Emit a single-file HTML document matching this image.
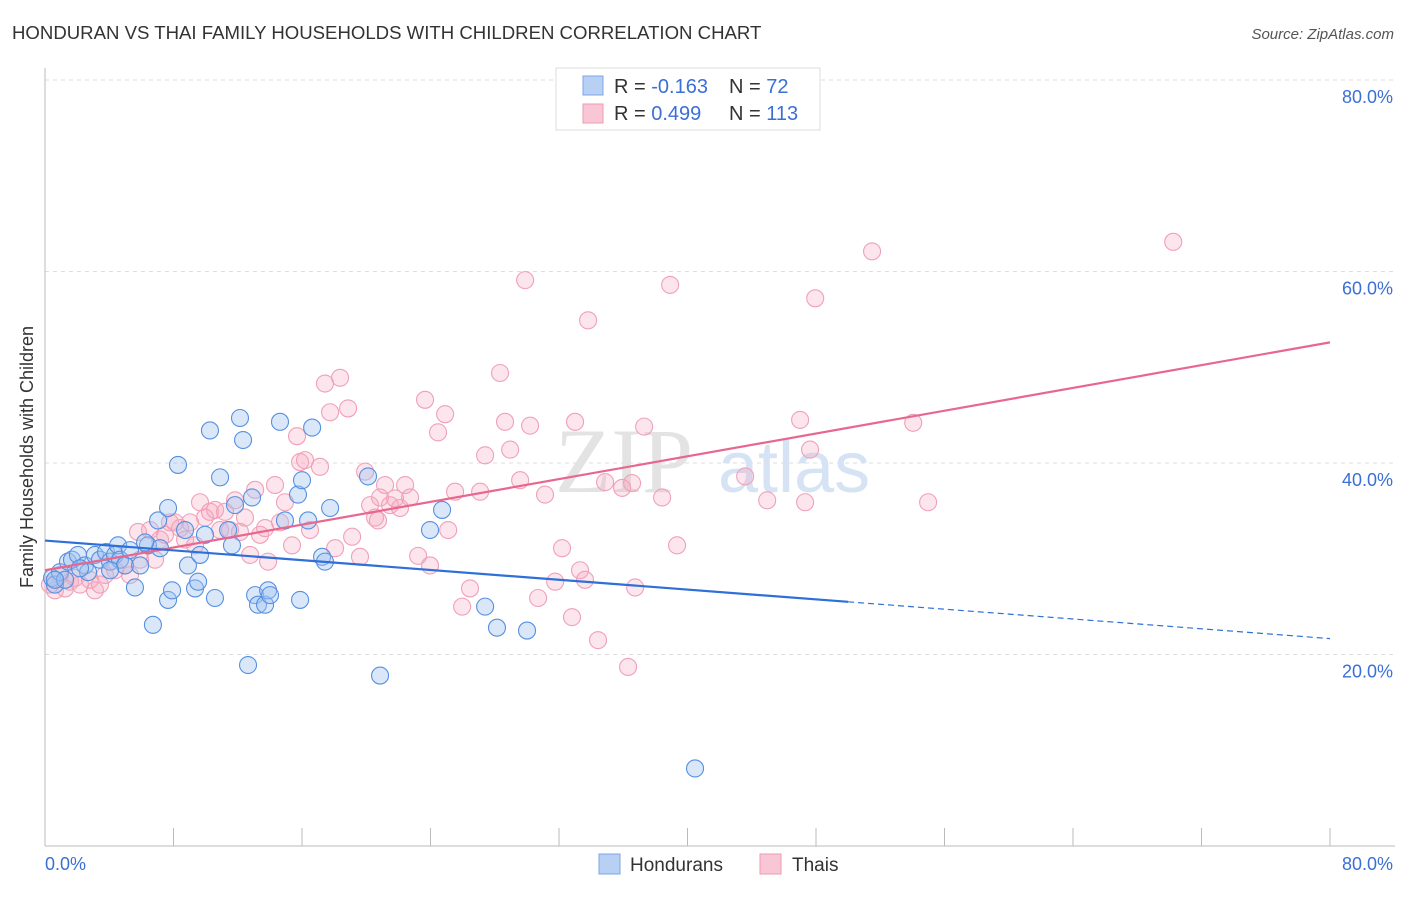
<!DOCTYPE html>
<html><head><meta charset="utf-8"><style>
body{margin:0;background:#fff;font-family:"Liberation Sans",sans-serif}
</style></head><body>
<svg width="1406" height="892" viewBox="0 0 1406 892" xmlns="http://www.w3.org/2000/svg" font-family="Liberation Sans, sans-serif">
<text x="12" y="39" font-size="18.6" fill="#333">HONDURAN VS THAI FAMILY HOUSEHOLDS WITH CHILDREN CORRELATION CHART</text>
<text x="1394" y="39" font-size="15" fill="#555" font-style="italic" text-anchor="end">Source: ZipAtlas.com</text>
<g id="grid"></g>
<g id="axes"></g>
<text x="555" y="492" font-size="92" fill="#e3e3e3" font-family="Liberation Serif, serif">ZIP</text>
<text x="718" y="492" font-size="72" fill="#d6e3f5">atlas</text>
<g id="pink"></g>
<g id="blue"></g>
<g id="trends"></g>
<text x="33" y="457" font-size="18" fill="#333" text-anchor="middle" transform="rotate(-90 33 457)">Family Households with Children</text>
<text x="45" y="870" font-size="18" fill="#3b6fd6">0.0%</text>
<text x="1393" y="870" font-size="18" fill="#3b6fd6" text-anchor="end">80.0%</text>
<g>
<rect x="556" y="68" width="264" height="62" fill="#fff" stroke="#ddd"/>
<rect x="583" y="76" width="20" height="19" fill="#b7d0f3" stroke="#7da6e6"/>
<rect x="583" y="104" width="20" height="19" fill="#f8c6d4" stroke="#ef9ab3"/>
<text x="614" y="93" font-size="20" fill="#333">R = <tspan fill="#3b6fd6">-0.163</tspan></text>
<text x="729" y="93" font-size="20" fill="#333">N = <tspan fill="#3b6fd6"> 72</tspan></text>
<text x="614" y="120" font-size="20" fill="#333">R = <tspan fill="#3b6fd6"> 0.499</tspan></text>
<text x="729" y="120" font-size="20" fill="#333">N = <tspan fill="#3b6fd6">113</tspan></text>
</g>
<g>
<rect x="599" y="854" width="21" height="20" fill="#b7d0f3" stroke="#7da6e6"/>
<text x="630" y="871" font-size="19" fill="#333">Hondurans</text>
<rect x="760" y="854" width="21" height="20" fill="#f8c6d4" stroke="#ef9ab3"/>
<text x="792" y="871" font-size="19" fill="#333">Thais</text>
</g>
</svg>
<script>
const yTicks=[20,40,60,80];
const yTickLabels=["20.0%","40.0%","60.0%","80.0%"];
const xTicks=[0,8,16,24,32,40,48,56,64,72,80];
const blueX=[0.44,0.62,0.93,1.25,1.43,1.68,2.05,2.49,2.68,3.11,3.42,3.8,4.05,4.36,4.55,4.67,4.98,5.29,5.6,5.92,6.41,6.72,7.04,7.16,7.66,7.66,7.91,8.28,8.72,8.9,9.34,9.53,9.65,9.96,10.27,10.58,10.9,11.4,11.64,11.83,12.14,12.33,12.64,12.89,13.08,13.26,13.7,13.89,14.01,14.63,14.94,15.75,15.88,16.0,16.38,16.63,17.25,17.43,17.75,20.11,20.86,23.97,24.72,27.4,28.14,30.01,40.47,0.62,2.18,4.05,6.23];
const blueY=[28.0,27.3,28.6,27.8,29.7,29.9,30.4,29.3,28.6,30.4,29.9,30.7,29.7,30.4,31.4,29.9,29.3,30.9,27.0,29.3,31.4,23.1,34.0,31.1,35.3,25.7,26.7,39.8,33.0,29.3,26.9,27.6,30.4,32.5,43.4,25.9,38.5,33.0,31.4,35.6,44.7,42.4,18.9,36.4,26.2,25.2,25.2,26.7,26.2,44.3,34.0,36.7,25.7,38.2,34.0,43.7,30.2,29.7,35.3,38.6,17.8,33.0,35.1,25.0,22.8,22.5,8.1,27.8,29.0,28.8,31.7];
const pinkX=[0.31,0.62,0.93,1.25,1.56,1.87,2.18,2.8,3.11,3.42,3.74,4.36,4.98,5.29,5.79,5.92,6.54,6.85,7.16,7.47,7.78,8.09,8.41,8.72,9.03,9.34,9.65,9.96,10.27,10.59,10.9,11.21,11.52,11.83,12.14,12.45,12.77,13.08,13.39,13.7,13.89,14.32,14.63,14.94,15.38,15.69,15.88,16.19,16.5,17.12,17.43,17.75,18.06,18.37,18.87,19.12,19.61,19.93,20.24,20.55,20.73,20.86,21.17,21.48,21.79,22.1,22.42,22.73,23.23,23.66,23.97,24.47,24.91,25.1,25.53,25.97,26.46,27.09,27.4,28.33,28.64,28.96,29.58,29.89,30.2,30.7,31.13,31.76,32.19,32.81,33.0,33.31,33.62,33.81,34.43,34.87,35.93,36.3,36.55,36.74,37.3,38.42,38.92,39.35,43.59,44.96,47.01,47.32,47.63,47.95,51.49,54.05,54.98,70.24];
const pinkY=[27.3,26.7,28.3,26.9,27.6,28.0,27.3,27.8,26.7,27.3,28.3,28.8,29.3,28.3,32.8,29.9,33.0,29.9,32.0,32.5,33.8,33.8,33.2,32.0,33.8,31.4,35.9,34.3,34.9,35.1,33.0,34.9,33.0,36.1,32.8,34.3,30.4,37.2,32.5,33.2,29.7,37.7,33.8,35.9,31.4,42.8,40.1,40.3,33.0,39.6,48.3,45.3,31.1,48.9,45.7,32.3,30.2,39.1,35.6,34.3,34.0,36.4,37.7,35.6,36.3,35.3,37.7,36.4,30.3,46.6,29.3,43.2,45.1,33.0,37.0,25.0,26.9,37.0,40.8,49.4,44.3,41.4,38.2,59.1,43.9,25.9,36.7,27.6,31.1,23.9,44.3,28.8,27.8,54.9,21.5,38.0,37.4,18.7,37.9,27.0,43.8,36.4,58.6,31.4,38.6,36.1,44.5,35.9,41.4,57.2,62.1,44.2,35.9,63.1];
const blueTrend=[31.9,-0.128];
const pinkTrend=[28.8,0.2975];
const NS="http://www.w3.org/2000/svg";
const X0=45,X1=1330,Y0=846,Y80=80;
function sx(v){return X0+(X1-X0)*v/80;}
function sy(v){return Y0-(Y0-Y80)*v/80;}
function mk(tag,attrs,parent){const e=document.createElementNS(NS,tag);for(const k in attrs)e.setAttribute(k,attrs[k]);parent.appendChild(e);return e;}
const grid=document.getElementById('grid'),axes=document.getElementById('axes');
yTicks.forEach((t,i)=>{
 const l=mk('line',{x1:X0,x2:1395,y1:sy(t),y2:sy(t),stroke:'#ddd','stroke-dasharray':'4,4'},grid);
 
 
 const tx=mk('text',{x:1393,y:sy(t)+23,'font-size':18,fill:'#3b6fd6','text-anchor':'end'},grid);
 tx.textContent=yTickLabels[i];
 
 
});
const xa=mk('line',{x1:X0,x2:1395,y1:Y0,y2:Y0,stroke:'#bbb'},axes);


const ya=mk('line',{x1:X0,x2:X0,y1:68,y2:Y0,stroke:'#bbb'},axes);


xTicks.forEach(t=>{
 const l=mk('line',{x1:sx(t),x2:sx(t),y1:828,y2:Y0,stroke:'#bbb'},axes);
 
 
});
function pts(xs,ys,g,fill,stroke,name){
 xs.forEach((v,i)=>{
  const c=mk('circle',{cx:sx(v),cy:sy(ys[i]),r:8.5,fill:fill,stroke:stroke,'stroke-width':1.1},g);
  
  
 });
}
pts(pinkX,pinkY,document.getElementById('pink'),'rgba(245,170,192,0.3)','#f0a0b8','thai-point');
pts(blueX,blueY,document.getElementById('blue'),'rgba(160,195,240,0.4)','#5690e2','honduran-point');
const tr=document.getElementById('trends');
const pl=mk('line',{x1:sx(0),y1:sy(pinkTrend[0]),x2:sx(80),y2:sy(pinkTrend[0]+80*pinkTrend[1]),stroke:'#e8678f','stroke-width':2.2},tr);


const bl=mk('line',{x1:sx(0),y1:sy(blueTrend[0]),x2:sx(50),y2:sy(blueTrend[0]+50*blueTrend[1]),stroke:'#2e6fd8','stroke-width':2.2},tr);


const bd=mk('line',{x1:sx(50),y1:sy(blueTrend[0]+50*blueTrend[1]),x2:sx(80),y2:sy(blueTrend[0]+80*blueTrend[1]),stroke:'#2e6fd8','stroke-width':1.2,'stroke-dasharray':'6,4'},tr);


</script>
</body></html>
